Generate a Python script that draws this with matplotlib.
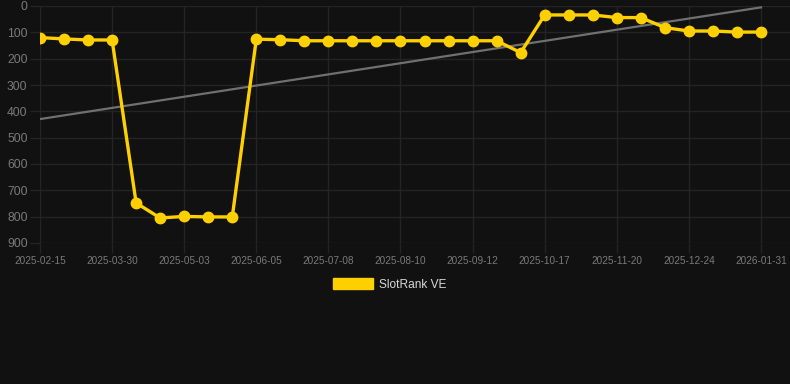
import numpy as np
import matplotlib
matplotlib.use("Agg")
import matplotlib.pyplot as plt
from matplotlib.patches import Patch

dates = ["2025-02-15", "2025-02-26", "2025-03-14", "2025-03-30", "2025-04-10", "2025-04-21",
         "2025-05-03", "2025-05-14", "2025-05-25", "2025-06-05", "2025-06-16", "2025-06-27",
         "2025-07-08", "2025-07-19", "2025-07-30", "2025-08-10", "2025-08-21", "2025-09-01",
         "2025-09-12", "2025-09-24", "2025-10-05", "2025-10-17", "2025-10-28", "2025-11-08",
         "2025-11-20", "2025-12-01", "2025-12-12", "2025-12-24", "2026-01-05", "2026-01-18",
         "2026-01-31"]
ranks = [120, 125, 129, 129, 748, 805, 799, 801, 801, 126, 128, 132, 132, 132, 132, 132,
         132, 132, 132, 132, 177, 34, 34, 34, 44, 44, 82, 95, 95, 99, 99]
series_name = "SlotRank VE"
yticks = [0, 100, 200, 300, 400, 500, 600, 700, 800, 900]

BG = "#111111"
GRID = "#242424"
TICK = "#7a7a7a"
YELLOW = "#FFD000"

W, H = 790, 384
fig = plt.figure(figsize=(W / 100, H / 100), dpi=100, facecolor=BG)
ax = fig.add_axes([40 / W, 1 - 243 / H, 750 / W, 237 / H], facecolor=BG)

x = np.arange(len(ranks))
y = np.array(ranks, dtype=float)

# trend line (least squares)
coef = np.polyfit(x, y, 1)
ax.plot(x, np.polyval(coef, x), color="#707070", lw=1.6, zorder=2)

ax.plot(x, y, color=YELLOW, lw=2.4, marker="o", markersize=7.5,
        markerfacecolor=YELLOW, markeredgecolor=YELLOW, zorder=3)

ax.set_ylim(900, 0)
ax.set_xlim(0, 30 + 29 / 24.03)
ax.set_yticks(yticks)
ax.set_yticklabels([str(v) for v in yticks])
tick_idx = list(range(0, len(dates), 3))
ax.set_xticks(tick_idx)
ax.set_xticklabels([dates[i] for i in tick_idx])

ax.grid(True, color=GRID, lw=1.0)
ax.set_axisbelow(True)
for s in ax.spines.values():
    s.set_visible(False)
ax.tick_params(axis="y", colors=GRID, labelcolor=TICK, labelsize=8.7, length=7, width=1.0, pad=2)
ax.tick_params(axis="x", colors=GRID, labelcolor=TICK, labelsize=7.2, length=7, width=1.0, pad=2)
for lbl in ax.get_xticklabels() + ax.get_yticklabels():
    lbl.set_fontfamily(["Liberation Sans", "DejaVu Sans"])

leg = fig.legend(handles=[Patch(facecolor=YELLOW, edgecolor=YELLOW, label=series_name)],
                 loc="center", bbox_to_anchor=((395 - 5.5) / W, 1 - 284.5 / H), frameon=False,
                 handlelength=3.3, handleheight=1.0, handletextpad=0.5,
                 prop={"family": ["Liberation Sans", "DejaVu Sans"], "size": 8.6})
for t in leg.get_texts():
    t.set_color("#d8d8d8")

fig.savefig("out.png", dpi=100, facecolor=BG)
